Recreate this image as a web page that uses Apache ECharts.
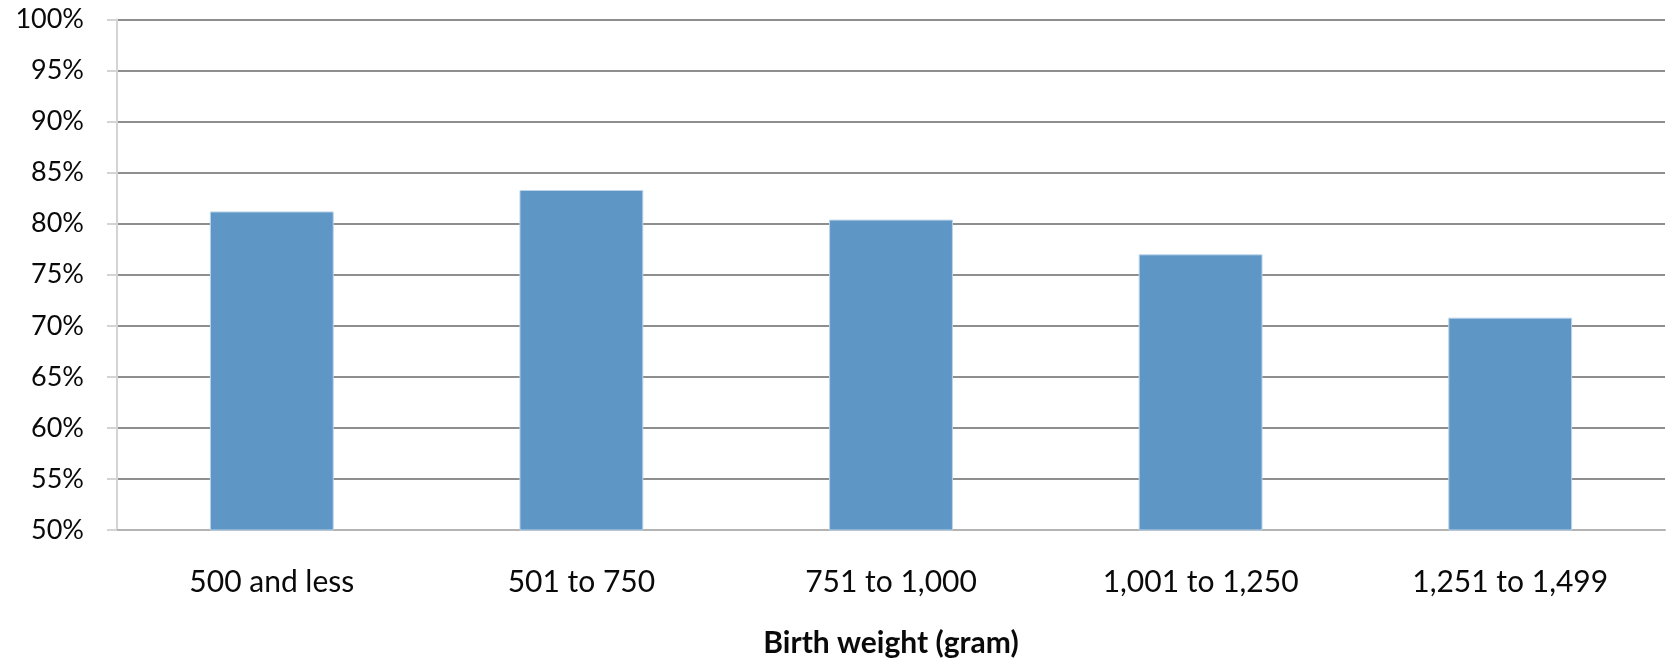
<!DOCTYPE html>
<html>
<head>
<meta charset="utf-8">
<script src="https://cdn.jsdelivr.net/npm/echarts@6/dist/echarts.min.js"></script>
<style>
  html, body { margin: 0; padding: 0; background: #ffffff; }
  #chart { width: 1667px; height: 663px; }
</style>
</head>
<body>
<div id="chart"></div>
<script>
// Birth weight groups and share (%) per group
const categories = ['500 and less', '501 to 750', '751 to 1,000', '1,001 to 1,250', '1,251 to 1,499'];
const shares = [81.2, 83.3, 80.4, 77.0, 70.8];
const axisTitle = 'Birth weight (gram)';

const font = 'Lato, "Open Sans", sans-serif';

const chart = echarts.init(document.getElementById('chart'), null, { renderer: 'canvas' });
chart.setOption({
  animation: false,
  backgroundColor: '#ffffff',
  grid: { left: 117, right: 2, top: 19.5, bottom: 132.3, containLabel: false },
  xAxis: {
    type: 'category',
    data: categories,
    name: axisTitle,
    nameLocation: 'middle',
    nameGap: 98,
    nameTextStyle: { fontFamily: font, fontSize: 30, fontWeight: 'bold', color: '#0a0a0a' },
    axisLine: { show: true, lineStyle: { color: '#b4b4b4', width: 2 } },
    axisTick: { show: false },
    axisLabel: { fontFamily: font, fontSize: 30, color: '#0a0a0a', margin: 37 }
  },
  yAxis: {
    type: 'value',
    min: 50,
    max: 100,
    interval: 5,
    axisLine: { show: true, lineStyle: { color: '#d4d4d4', width: 2 } },
    axisTick: { show: true, length: 10, lineStyle: { color: '#d4d4d4', width: 2 } },
    splitLine: { show: true, lineStyle: { color: '#8e8e8e', width: 2 } },
    axisLabel: {
      fontFamily: font, fontSize: 27, color: '#0a0a0a', margin: 33,
      formatter: v => v + '%'
    }
  },
  series: [{
    type: 'bar',
    data: shares,
    barWidth: '40%',
    itemStyle: { color: '#5e96c5', borderColor: '#bcd4ea', borderWidth: 1 }
  }]
});
</script>
</body>
</html>
